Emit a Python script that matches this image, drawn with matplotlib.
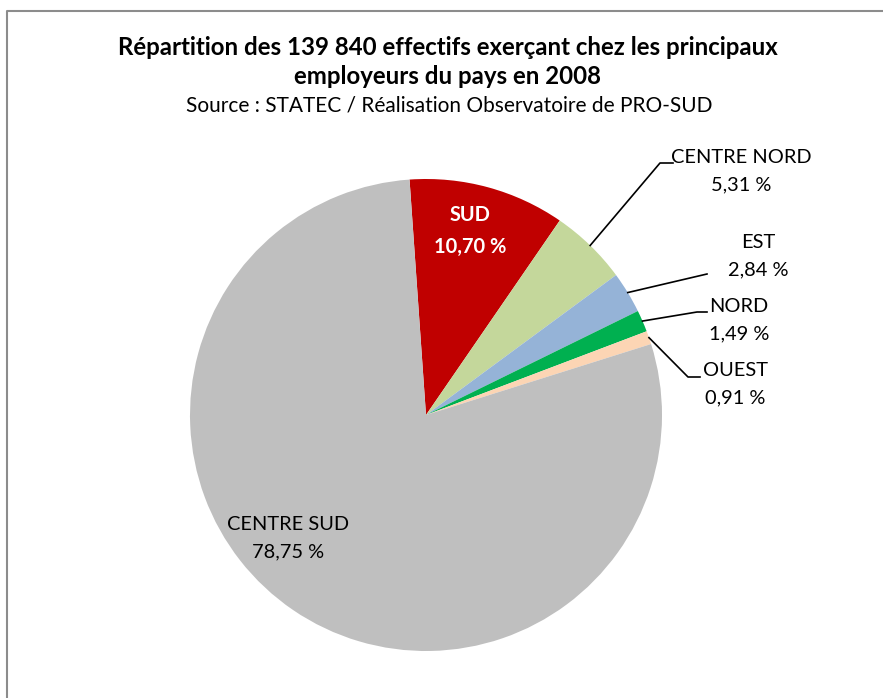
import matplotlib.pyplot as plt
import numpy as np

# data
regions = ['SUD', 'CENTRE NORD', 'EST', 'NORD', 'OUEST', 'CENTRE SUD']
shares = [10.70, 5.31, 2.84, 1.49, 0.91, 78.75]
colors = ['#C00000', '#C4D79B', '#95B3D7', '#00B050', '#FCD5B4', '#BFBFBF']

title = 'Répartition des 139 840 effectifs exerçant chez les principaux\nemployeurs du pays en 2008'
source = 'Source : STATEC / Réalisation Observatoire de PRO-SUD'

plt.rcParams['font.family'] = ['Lato', 'DejaVu Sans']

W, H = 883, 698
fig = plt.figure(figsize=(W / 100, H / 100), dpi=100)
ax = fig.add_axes([0, 0, 1, 1])

cx, cy, r = 426, H - 415, 236
start = 94
wedges, _ = ax.pie(shares, colors=colors, startangle=start, counterclock=False,
                   center=(cx, cy), radius=r, frame=True)
ax.set_xlim(0, W)
ax.set_ylim(0, H)
ax.axis('off')

# chart frame (only top and left edges fall inside the picture)
ax.plot([6.5, 6.5, W + 10], [-10, H - 11, H - 11], color='#8c8c8c', lw=1.5, clip_on=False)

fig.text(448 / W, 1 - 62 / H, title, ha='center', va='center', fontsize=17.3,
         fontweight='bold', linespacing=1.3)
fig.text(449 / W, 1 - 105 / H, source, ha='center', va='center', fontsize=15)

def lab(i):
    return '%s\n%s %%' % (regions[i], ('%.2f' % shares[i]).replace('.', ','))

# inside labels
ax.text(470, H - 231, lab(0), ha='center', va='center', fontsize=14.4, color='white',
        fontweight='bold', linespacing=1.7)
ax.text(288, H - 538, lab(5), ha='center', va='center', fontsize=14.4, linespacing=1.75)

# outside labels with leader lines: text center, elbow point, end point
outside = {
    1: ((741, 171), (660, 163), (673, 163)),
    2: ((758, 256), (707, 274), (707, 274)),
    3: ((739, 320), (697, 312), (707, 312)),
    4: ((735, 384), (688, 377), (700, 377)),
}
theta = start
for i, w in enumerate(wedges):
    mid = theta - shares[i] * 3.6 / 2
    theta -= shares[i] * 3.6
    if i not in outside:
        continue
    (tx, ty), (ex, ey), (fx, fy) = outside[i]
    px = cx + r * np.cos(np.radians(mid))
    py = cy + r * np.sin(np.radians(mid))
    ax.plot([px, ex, fx], [py, H - ey, H - fy], color='black', lw=1.2)
    ax.text(tx, H - ty, lab(i), ha='center', va='center', fontsize=14.4, linespacing=1.7)

fig.savefig('out.png', dpi=100)
